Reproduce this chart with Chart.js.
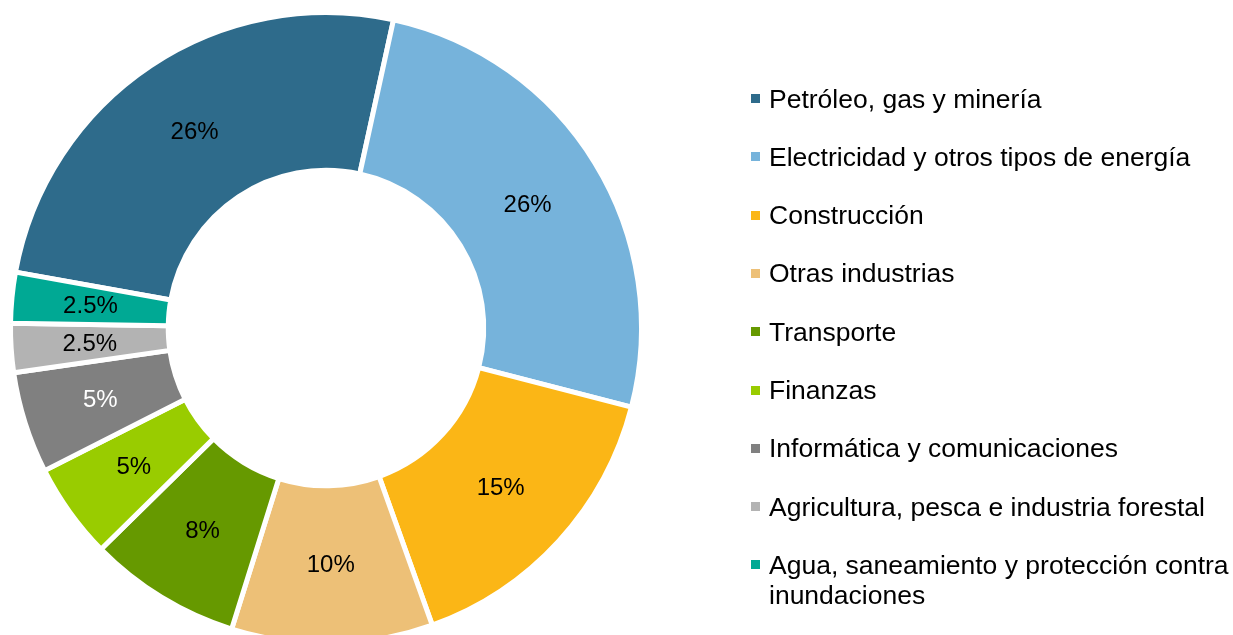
<!DOCTYPE html>
<html lang="es">
<head>
<meta charset="utf-8">
<title>Distribución por sector</title>
<script src="https://cdn.jsdelivr.net/npm/chart.js@4.4.1/dist/chart.umd.min.js"></script>
<style>
  html, body { margin: 0; padding: 0; background: #ffffff; overflow: hidden; }
  body { width: 1233px; height: 635px; position: relative; font-family: "Liberation Sans", Arial, sans-serif; }
  #chartWrap { position: absolute; left: 0; top: 0; width: 652px; height: 635px; }
  #legend { position: absolute; left: 0; top: 0; width: 1233px; height: 635px; pointer-events: none; }
  .item { position: absolute; left: 751px; width: 480px; }
  .sw { position: absolute; left: 0; top: 10.5px; width: 9px; height: 9px; }
  .txt { position: absolute; left: 18px; top: 0; width: 470px; font-size: 26.5px; line-height: 30px; color: #000; }
</style>
</head>
<body>
<div id="chartWrap"><canvas id="c"></canvas></div>
<div id="legend"></div>
<script>
// Sectors (clockwise from the left, just above horizontal)
const categories = [
  "Petróleo, gas y minería",
  "Electricidad y otros tipos de energía",
  "Construcción",
  "Otras industrias",
  "Transporte",
  "Finanzas",
  "Informática y comunicaciones",
  "Agricultura, pesca e industria forestal",
  "Agua, saneamiento y protección contra inundaciones"
];
// Shares (%)
const shares = [25.6, 25.6, 15.5, 10.3, 7.8, 4.9, 5.2, 2.5, 2.6];
// Printed labels
const valueLabels = ["26%", "26%", "15%", "10%", "8%", "5%", "5%", "2.5%", "2.5%"];
const sliceColors = ["#2E6B8B", "#76B3DB", "#FBB616", "#EDC077", "#669900", "#99CC00", "#808080", "#B3B3B3", "#00A994"];
const labelColors = ["#000", "#000", "#000", "#000", "#000", "#000", "#fff", "#000", "#000"];

const labelPlugin = {
  id: "sliceLabels",
  afterDatasetsDraw(chart) {
    const ctx = chart.ctx;
    const meta = chart.getDatasetMeta(0);
    ctx.save();
    ctx.font = '24px "Liberation Sans", Arial, sans-serif';
    ctx.textAlign = "center";
    ctx.textBaseline = "middle";
    meta.data.forEach((arc, i) => {
      const p = arc.tooltipPosition();
      ctx.fillStyle = labelColors[i];
      ctx.fillText(valueLabels[i], p.x, p.y + 1);
    });
    ctx.restore();
  }
};

new Chart(document.getElementById("c"), {
  type: "doughnut",
  data: {
    labels: categories,
    datasets: [{
      data: shares,
      backgroundColor: sliceColors,
      borderColor: "#ffffff",
      borderWidth: 5,
      hoverOffset: 0,
      clip: false
    }]
  },
  options: {
    responsive: true,
    maintainAspectRatio: false,
    animation: false,
    rotation: -79.8,
    radius: 315.5,
    cutout: "50%",
    layout: { padding: { top: 21, bottom: 0, left: 0, right: 0 } },
    events: [],
    plugins: {
      legend: { display: false },
      tooltip: { enabled: false }
    }
  },
  plugins: [labelPlugin]
});

// Legend (HTML text)
const legend = document.getElementById("legend");
categories.forEach((name, i) => {
  const item = document.createElement("div");
  item.className = "item";
  item.style.top = (98.5 + i * 58.3 - 15) + "px";
  const sw = document.createElement("span");
  sw.className = "sw";
  sw.style.background = sliceColors[i];
  const txt = document.createElement("span");
  txt.className = "txt";
  txt.textContent = name;
  item.appendChild(sw);
  item.appendChild(txt);
  legend.appendChild(item);
});
</script>
</body>
</html>
